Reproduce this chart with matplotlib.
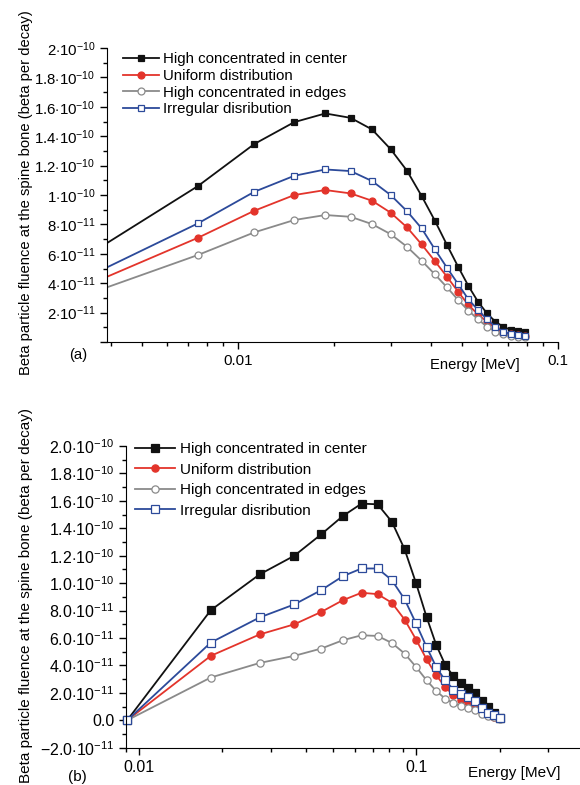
import numpy as np
import matplotlib
matplotlib.use("Agg")
import matplotlib.pyplot as plt

plt.rcParams["font.family"] = ["Liberation Sans", "DejaVu Sans"]
plt.rcParams["mathtext.fontset"] = "custom"
plt.rcParams["mathtext.rm"] = "Liberation Sans"
plt.rcParams["mathtext.it"] = "Liberation Sans:italic"
plt.rcParams["mathtext.bf"] = "Liberation Sans:bold"

# --- data (fluence in units of 1e-11) -----------------------------------
labels = ["High concentrated in center", "Uniform distribution",
          "High concentrated in edges", "Irregular disribution"]

# panel (a)
energy_a = [0.00375, 0.0075, 0.01125, 0.015, 0.01875, 0.0225, 0.02625, 0.03,
            0.03375, 0.0375, 0.04125, 0.045, 0.04875, 0.0525, 0.05625, 0.06,
            0.06375, 0.0675, 0.07125, 0.075, 0.07875]
center_a = [6.5, 10.61, 13.47, 14.96, 15.55, 15.25, 14.46, 13.12, 11.65, 9.93,
            8.25, 6.6, 5.12, 3.81, 2.74, 1.95, 1.38, 1.04, 0.82, 0.75, 0.70]
uniform_a = [4.28, 7.09, 8.93, 10.0, 10.34, 10.11, 9.61, 8.8, 7.8, 6.64,
             5.5, 4.44, 3.42, 2.52, 1.88, 1.38, 0.93, 0.63, 0.52, 0.48, 0.43]
edges_a = [3.59, 5.92, 7.46, 8.3, 8.64, 8.52, 8.02, 7.34, 6.48, 5.53,
           4.6, 3.72, 2.86, 2.13, 1.54, 1.04, 0.7, 0.54, 0.41, 0.37, 0.37]
irregular_a = [4.90, 8.07, 10.22, 11.31, 11.74, 11.63, 10.95, 10.0, 8.9, 7.73,
               6.3, 5.05, 3.94, 2.9, 2.18, 1.54, 1.04, 0.70, 0.54, 0.48, 0.43]

# panel (b)
energy_b = [0.00909, 0.0182, 0.0273, 0.0364, 0.0455, 0.0545, 0.0636, 0.0727,
            0.0818, 0.0909, 0.1, 0.1091, 0.1182, 0.1273, 0.1364, 0.1455,
            0.1545, 0.1636, 0.1727, 0.1818, 0.1909, 0.2]
center_b = [0.0, 8.03, 10.64, 12.0, 13.56, 14.9, 15.8, 15.75, 14.48, 12.48,
            10.0, 7.54, 5.5, 4.06, 3.2, 2.72, 2.39, 2.02, 1.41, 0.97, 0.56, 0.2]
uniform_b = [0.0, 4.7, 6.26, 7.0, 7.9, 8.76, 9.3, 9.2, 8.57, 7.35,
             5.89, 4.45, 3.29, 2.43, 1.83, 1.51, 1.34, 1.1, 0.7, 0.4, 0.27, 0.15]
edges_b = [0.0, 3.12, 4.18, 4.7, 5.23, 5.84, 6.2, 6.15, 5.64, 4.87,
           3.89, 2.92, 2.14, 1.58, 1.26, 1.04, 0.9, 0.73, 0.49, 0.29, 0.22, 0.07]
irregular_b = [0.0, 5.67, 7.5, 8.45, 9.49, 10.51, 11.07, 11.07, 10.22, 8.83,
               7.06, 5.35, 3.89, 2.92, 2.24, 1.95, 1.7, 1.41, 0.93, 0.56, 0.37, 0.2]

yticks_a = [0, 2, 4, 6, 8, 10, 12, 14, 16, 18, 20]
ytick_labels_a = ["", r"$2{\cdot}10^{-11}$", r"$4{\cdot}10^{-11}$", r"$6{\cdot}10^{-11}$",
                  r"$8{\cdot}10^{-11}$", r"$1{\cdot}10^{-10}$", r"$1.2{\cdot}10^{-10}$",
                  r"$1.4{\cdot}10^{-10}$", r"$1.6{\cdot}10^{-10}$", r"$1.8{\cdot}10^{-10}$",
                  r"$2{\cdot}10^{-10}$"]
yticks_b = [-2, 0, 2, 4, 6, 8, 10, 12, 14, 16, 18, 20]
ytick_labels_b = [r"$-2.0{\cdot}10^{-11}$", "0.0", r"$2.0{\cdot}10^{-11}$",
                  r"$4.0{\cdot}10^{-11}$", r"$6.0{\cdot}10^{-11}$", r"$8.0{\cdot}10^{-11}$",
                  r"$1.0{\cdot}10^{-10}$", r"$1.2{\cdot}10^{-10}$", r"$1.4{\cdot}10^{-10}$",
                  r"$1.6{\cdot}10^{-10}$", r"$1.8{\cdot}10^{-10}$", r"$2.0{\cdot}10^{-10}$"]

styles = [
    dict(color="#111111", marker="s", mfc="#111111", mec="#111111"),
    dict(color="#e3342b", marker="o", mfc="#e3342b", mec="#e3342b"),
    dict(color="#8a8a8a", marker="o", mfc="white", mec="#8a8a8a"),
    dict(color="#2c4a9a", marker="s", mfc="white", mec="#2c4a9a"),
]

fig = plt.figure(figsize=(5.8, 7.85), dpi=100)
ax_a = fig.add_axes([0.1845, 0.5643, 0.7776, 0.3745])
ax_b = fig.add_axes([0.2172, 0.0475, 0.7828, 0.3843])


def style_axes(ax, size):
    for s in ("top", "right"):
        ax.spines[s].set_visible(False)
    ax.set_xscale("log")
    ax.tick_params(which="major", direction="out", length=5, width=1, labelsize=size)
    ax.tick_params(which="minor", direction="out", length=3, width=1)
    ax.xaxis.set_major_formatter(matplotlib.ticker.FuncFormatter(lambda v, p: f"{v:g}"))
    ax.xaxis.set_minor_formatter(matplotlib.ticker.NullFormatter())


# panel (a)
series_a = [center_a, uniform_a, edges_a, irregular_a]
for ys, st, lab in zip(series_a, styles, labels):
    ax_a.plot(energy_a, np.array(ys) * 1e-11, lw=1.3, ms=5, mew=0.9, label=lab, **st)
style_axes(ax_a, 10.8)
ax_a.set_xlim(0.0039, 0.1)
ax_a.set_ylim(0, 2e-10)
ax_a.set_xticks([0.01, 0.1])
ax_a.set_yticks(np.array(yticks_a) * 1e-11, ytick_labels_a)
ax_a.set_yticks(np.arange(1, 20, 2) * 1e-11, minor=True)
ax_a.legend(loc="upper left", bbox_to_anchor=(0.035, 0.985), frameon=False, fontsize=10.8,
            handlelength=2.4, handletextpad=0.3, labelspacing=0.17, borderpad=0,
            borderaxespad=0, numpoints=1)
ax_a.text(0.716, -0.078, "Energy [MeV]", transform=ax_a.transAxes, fontsize=10.6, va="center")
ax_a.text(-0.063, -0.044, "(a)", transform=ax_a.transAxes, fontsize=10.6, va="center", ha="center")

# panel (b)
series_b = [center_b, uniform_b, edges_b, irregular_b]
for ys, st, lab in zip(series_b, styles, labels):
    ax_b.plot(energy_b, np.array(ys) * 1e-11, lw=1.3, ms=5.2, mew=0.9, label=lab,
              clip_on=False, **st)
style_axes(ax_b, 11.5)
ax_b.set_xlim(0.009, 0.39)
ax_b.set_ylim(-2e-11, 2e-10)
ax_b.set_xticks([0.01, 0.1])
ax_b.set_yticks(np.array(yticks_b) * 1e-11, ytick_labels_b)
ax_b.set_yticks(np.arange(-1, 20, 2) * 1e-11, minor=True)
ax_b.legend(loc="upper left", bbox_to_anchor=(0.02, 1.012), frameon=False, fontsize=11,
            handlelength=2.6, handletextpad=0.35, labelspacing=0.42, borderpad=0,
            borderaxespad=0, numpoints=1)
ax_b.text(0.753, -0.084, "Energy [MeV]", transform=ax_b.transAxes, fontsize=11, va="center")
ax_b.text(-0.106, -0.097, "(b)", transform=ax_b.transAxes, fontsize=11, va="center", ha="center")

ylab = "Beta particle fluence at the spine bone (beta per decay)"
fig.text(0.045, 0.754, ylab, rotation=90, ha="center", va="center", fontsize=10.6)
fig.text(0.045, 0.242, ylab, rotation=90, ha="center", va="center", fontsize=11)

fig.savefig("out.png", dpi=100)
